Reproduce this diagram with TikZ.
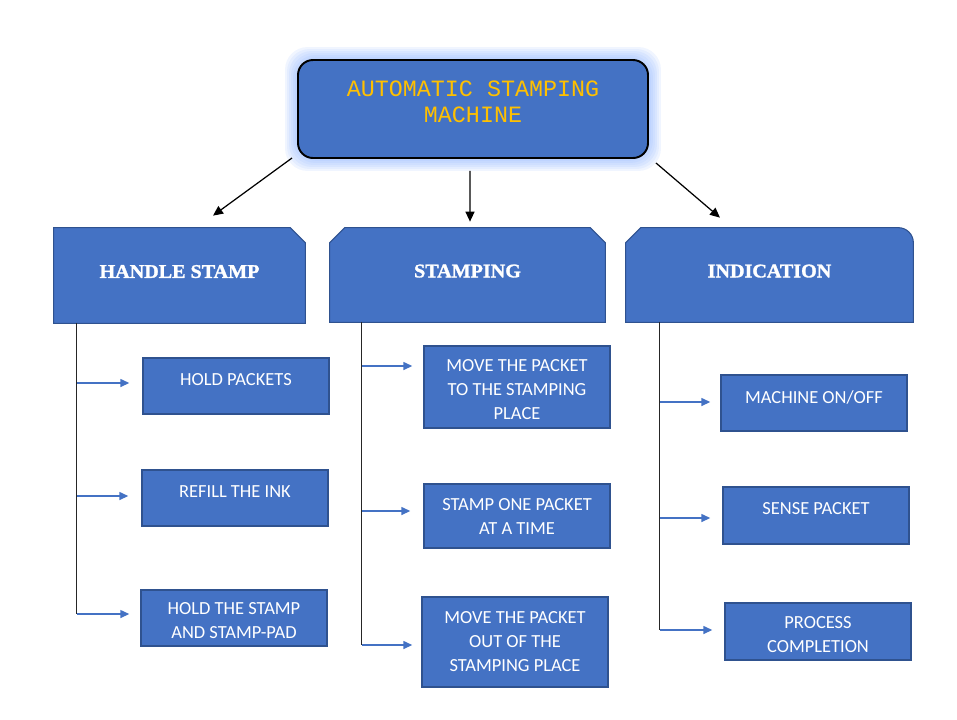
\documentclass[tikz,border=0pt]{standalone}
\usepackage{fontspec}
\setmainfont{Carlito}
\newfontfamily\headfont{Liberation Serif}[BoldFeatures={FakeBold=1.5,FakeStretch=1.04}]
\newfontfamily\titlefont{Liberation Mono}
\usetikzlibrary{positioning,arrows.meta,backgrounds}

\definecolor{boxblue}{HTML}{4472C4}
\definecolor{edgeblue}{HTML}{2F528F}
\definecolor{titleyellow}{HTML}{FFC000}
\definecolor{glowblue}{RGB}{135,175,255}

\tikzset{
	mainbox/.style={draw=black, line width=1.1pt, fill=boxblue, rounded corners=3mm, minimum width=70mm, minimum height=19.6mm},
	titletxt/.style={text=titleyellow, inner sep=0pt, align=center, font=\titlefont\fontsize{13.3}{14.8}\selectfont},
	headbox/.style={draw=edgeblue, line width=0.6pt, fill=boxblue},
	headtxt/.style={text=white, text depth=4.6pt, font=\headfont\bfseries\fontsize{11}{13}\selectfont},
	subbox/.style={draw=edgeblue, line width=0.8pt, fill=boxblue, minimum width=37.2mm},
	subtxt/.style={text=white, inner sep=0pt, align=center, font=\fontsize{10.5}{13.7}\selectfont},
	downarrow/.style={-{Triangle[length=2mm,width=1.8mm]}, line width=0.7pt},
	stem/.style={black!85, line width=0.6pt},
	subarrow/.style={draw=boxblue, -{Triangle[length=1.8mm,width=1.6mm]}, line width=0.8pt}
}

\begin{document}
\begin{tikzpicture}[x=0.2mm,y=-0.2mm]
		\useasboundingbox (0,0) rectangle (957,719);
		
		%title
		\node[mainbox] (main) at (473,109) {};
		\node[titletxt, below=4.2mm of main.north] (mainT) {AUTOMATIC STAMPING\\MACHINE};
		\begin{scope}[on background layer]
			\foreach \g in {2,4,...,12}
				\fill[glowblue, opacity=0.12, rounded corners=4.5mm] ([shift={(-\g,\g)}]main.south west) rectangle ([shift={(\g,-\g)}]main.north east);
		\end{scope}
		
		%headers
		\node[headtxt, minimum width=50.2mm, minimum height=19mm] (handle) at (179.5,275.5) {HANDLE STAMP};
		\node[headtxt, minimum width=55mm, minimum height=18.8mm] (stamping) at (467.5,275) {STAMPING};
		\node[headtxt, minimum width=57.4mm, minimum height=18.8mm] (indication) at (769.5,275) {INDICATION};
		\begin{scope}[on background layer]
			\filldraw[headbox] (handle.south west) -- (handle.north west) -- ([xshift=-3mm]handle.north east) -- ([yshift=-3mm]handle.north east) -- (handle.south east) -- cycle;
			\filldraw[headbox] (stamping.south west) -- ([yshift=-3mm]stamping.north west) -- ([xshift=3mm]stamping.north west) -- ([xshift=-3mm]stamping.north east) -- ([yshift=-3mm]stamping.north east) -- (stamping.south east) -- cycle;
			\filldraw[headbox] (indication.south west) -- ([yshift=-3mm]indication.north west) -- ([xshift=3mm]indication.north west) -- ([xshift=-3mm]indication.north east) arc[start angle=90, end angle=0, radius=3mm] -- (indication.south east) -- cycle;
		\end{scope}
		
		%title to headers
		\draw[downarrow] ([shift={(-5,-1)}]main.south west) -- ([shift={(33.5,-12)}]handle.north);
		\draw[downarrow] ([shift={(-3,12)}]main.south) -- ([shift={(2.5,-6)}]stamping.north);
		\draw[downarrow] ([shift={(7,4)}]main.south east) -- ([shift={(-49.5,-10)}]indication.north);
		
		%handle stamp
		\node[subbox, minimum height=11.2mm] (hold) at (236,386) {};
		\node[subtxt, below=3.1mm of hold.north] (holdT) {HOLD PACKETS};
		\node[subbox, minimum height=11.2mm] (refill) at (235,498) {};
		\node[subtxt, below=3.1mm of refill.north] (refillT) {REFILL THE INK};
		\node[subbox, minimum height=11.2mm] (holdstamp) at (234,618) {};
		\node[subtxt, below=2.6mm of holdstamp.north] (holdstampT) {HOLD THE STAMP\\AND STAMP-PAD};
		
		%stamping
		\node[subbox, minimum height=16.4mm] (movein) at (517,387) {};
		\node[subtxt, below=2.8mm of movein.north] (moveinT) {MOVE THE PACKET\\TO THE STAMPING\\PLACE};
		\node[subbox, minimum height=12.8mm] (stampone) at (517,516) {};
		\node[subtxt, below=3mm of stampone.north] (stamponeT) {STAMP ONE PACKET\\AT A TIME};
		\node[subbox, minimum height=18mm] (moveout) at (515,642) {};
		\node[subtxt, below=3mm of moveout.north] (moveoutT) {MOVE THE PACKET\\OUT OF THE\\STAMPING PLACE};
		
		%indication
		\node[subbox, minimum height=11.2mm] (machine) at (814,403) {};
		\node[subtxt, below=3.2mm of machine.north] (machineT) {MACHINE ON/OFF};
		\node[subbox, minimum height=11.4mm] (sense) at (816,515.5) {};
		\node[subtxt, below=3.2mm of sense.north] (senseT) {SENSE PACKET};
		\node[subbox, minimum height=11.4mm] (process) at (818,631.5) {};
		\node[subtxt, below=2.8mm of process.north] (processT) {PROCESS\\COMPLETION};
		
		%branches
		\coordinate (handleL) at ([xshift=4.6mm]handle.south west);
		\foreach \b/\dy/\gap in {hold/-3/13, refill/-2/13, holdstamp/-4/11}
			\draw[subarrow] (handleL |- \b.west) ++(0,\dy) coordinate (\b-s) -- ([shift={(-\gap,\dy)}]\b.west);
		\draw[stem] (handleL) -- (holdstamp-s);
		
		\coordinate (stampingL) at ([xshift=6.4mm]stamping.south west);
		\foreach \b/\dy/\gap in {movein/-21/11, stampone/-5/13, moveout/3/9}
			\draw[subarrow] (stampingL |- \b.west) ++(0,\dy) coordinate (\b-s) -- ([shift={(-\gap,\dy)}]\b.west);
		\draw[stem] (stampingL) -- (moveout-s);
		
		\coordinate (indicationL) at ([xshift=6.8mm]indication.south west);
		\foreach \b/\dy/\gap in {machine/-1/10, sense/2.5/12, process/-1.5/12}
			\draw[subarrow] (indicationL |- \b.west) ++(0,\dy) coordinate (\b-s) -- ([shift={(-\gap,\dy)}]\b.west);
		\draw[stem] (indicationL) -- (process-s);
		
\end{tikzpicture}
\end{document}
